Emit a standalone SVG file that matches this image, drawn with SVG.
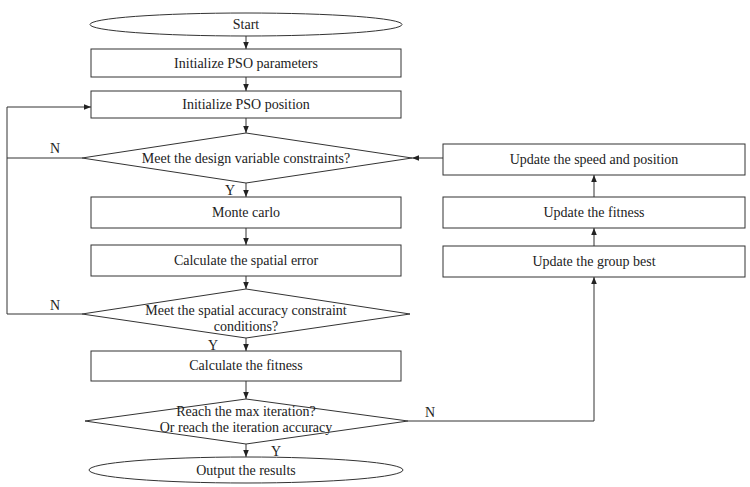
<svg xmlns="http://www.w3.org/2000/svg" width="750" height="487" viewBox="0 0 750 487">
<defs>
<marker id="ah" viewBox="0 0 10 10" refX="10" refY="5" markerWidth="7" markerHeight="7" markerUnits="userSpaceOnUse" orient="auto">
<path d="M0,1 L10,5 L0,9 z" fill="#222"/>
</marker>
</defs>
<style>
.s{fill:#fff;stroke:#333;stroke-width:1}
.t{font-family:'Liberation Serif','Times New Roman',serif;font-size:14px;fill:#222;text-anchor:middle}
.c{fill:none;stroke:#333;stroke-width:1;marker-end:url(#ah)}
.l{fill:none;stroke:#333;stroke-width:1}
</style>
<rect width="750" height="487" fill="#fff"/>
<g id="connectors">
<line class="c" x1="246" y1="36" x2="246" y2="49"/>
<line class="c" x1="246" y1="77" x2="246" y2="91"/>
<line class="c" x1="246" y1="118" x2="246" y2="133"/>
<line class="c" x1="246" y1="183" x2="246" y2="197"/>
<line class="c" x1="246" y1="228" x2="246" y2="245"/>
<line class="c" x1="246" y1="276" x2="246" y2="289"/>
<line class="c" x1="246" y1="338" x2="246" y2="351"/>
<line class="c" x1="246" y1="381" x2="246" y2="399"/>
<line class="c" x1="246" y1="444" x2="246" y2="457"/>
<polyline class="c" points="82,158 7,158 7,107 91,107"/>
<polyline class="l" points="82,314 7,314 7,158"/>
<line class="c" x1="443" y1="158" x2="412" y2="158"/>
<line class="c" x1="594" y1="197" x2="594" y2="175"/>
<line class="c" x1="594" y1="246" x2="594" y2="228"/>
<polyline class="c" points="408,421 594,421 594,277"/>
<text class="t" x="55" y="153">N</text>
<text class="t" x="55" y="310">N</text>
<text class="t" x="230" y="195">Y</text>
<text class="t" x="213" y="350">Y</text>
<text class="t" x="276" y="456">Y</text>
<text class="t" x="430" y="417">N</text>
</g>
<g id="start">
<ellipse class="s" cx="246" cy="24.5" rx="156" ry="11.5"/>
<text class="t" x="246" y="29">Start</text>
</g>
<g id="init-params">
<rect class="s" x="91" y="49" width="310" height="28"/>
<text class="t" x="246" y="67.5">Initialize PSO parameters</text>
</g>
<g id="init-position">
<rect class="s" x="91" y="91" width="310" height="27"/>
<text class="t" x="246" y="109">Initialize PSO position</text>
</g>
<g id="design-check">
<polygon class="s" points="246,133 412,158 246,183 82,158"/>
<text class="t" x="246" y="162.5">Meet the design variable constraints?</text>
</g>
<g id="monte-carlo">
<rect class="s" x="91" y="197" width="310" height="31"/>
<text class="t" x="246" y="217">Monte carlo</text>
</g>
<g id="spatial-error">
<rect class="s" x="91" y="245" width="310" height="31"/>
<text class="t" x="246" y="265">Calculate the spatial error</text>
</g>
<g id="accuracy-check">
<polygon class="s" points="246,289 410,314 246,338 82,314"/>
<text class="t" x="246" y="315">Meet the spatial accuracy constraint</text>
<text class="t" x="246" y="331">conditions?</text>
</g>
<g id="calc-fitness">
<rect class="s" x="91" y="351" width="310" height="30"/>
<text class="t" x="246" y="370">Calculate the fitness</text>
</g>
<g id="iteration-check">
<polygon class="s" points="246,399 408,421 246,444 85,421"/>
<text class="t" x="246" y="416">Reach the max iteration?</text>
<text class="t" x="246" y="432">Or reach the iteration accuracy</text>
</g>
<g id="output">
<ellipse class="s" cx="246" cy="470" rx="157" ry="13"/>
<text class="t" x="246" y="474.5">Output the results</text>
</g>
<g id="update-speed">
<rect class="s" x="443" y="144" width="302" height="31"/>
<text class="t" x="594" y="164">Update the speed and position</text>
</g>
<g id="update-fitness">
<rect class="s" x="443" y="197" width="302" height="31"/>
<text class="t" x="594" y="217">Update the fitness</text>
</g>
<g id="update-group-best">
<rect class="s" x="443" y="246" width="302" height="31"/>
<text class="t" x="594" y="266">Update the group best</text>
</g>
</svg>
